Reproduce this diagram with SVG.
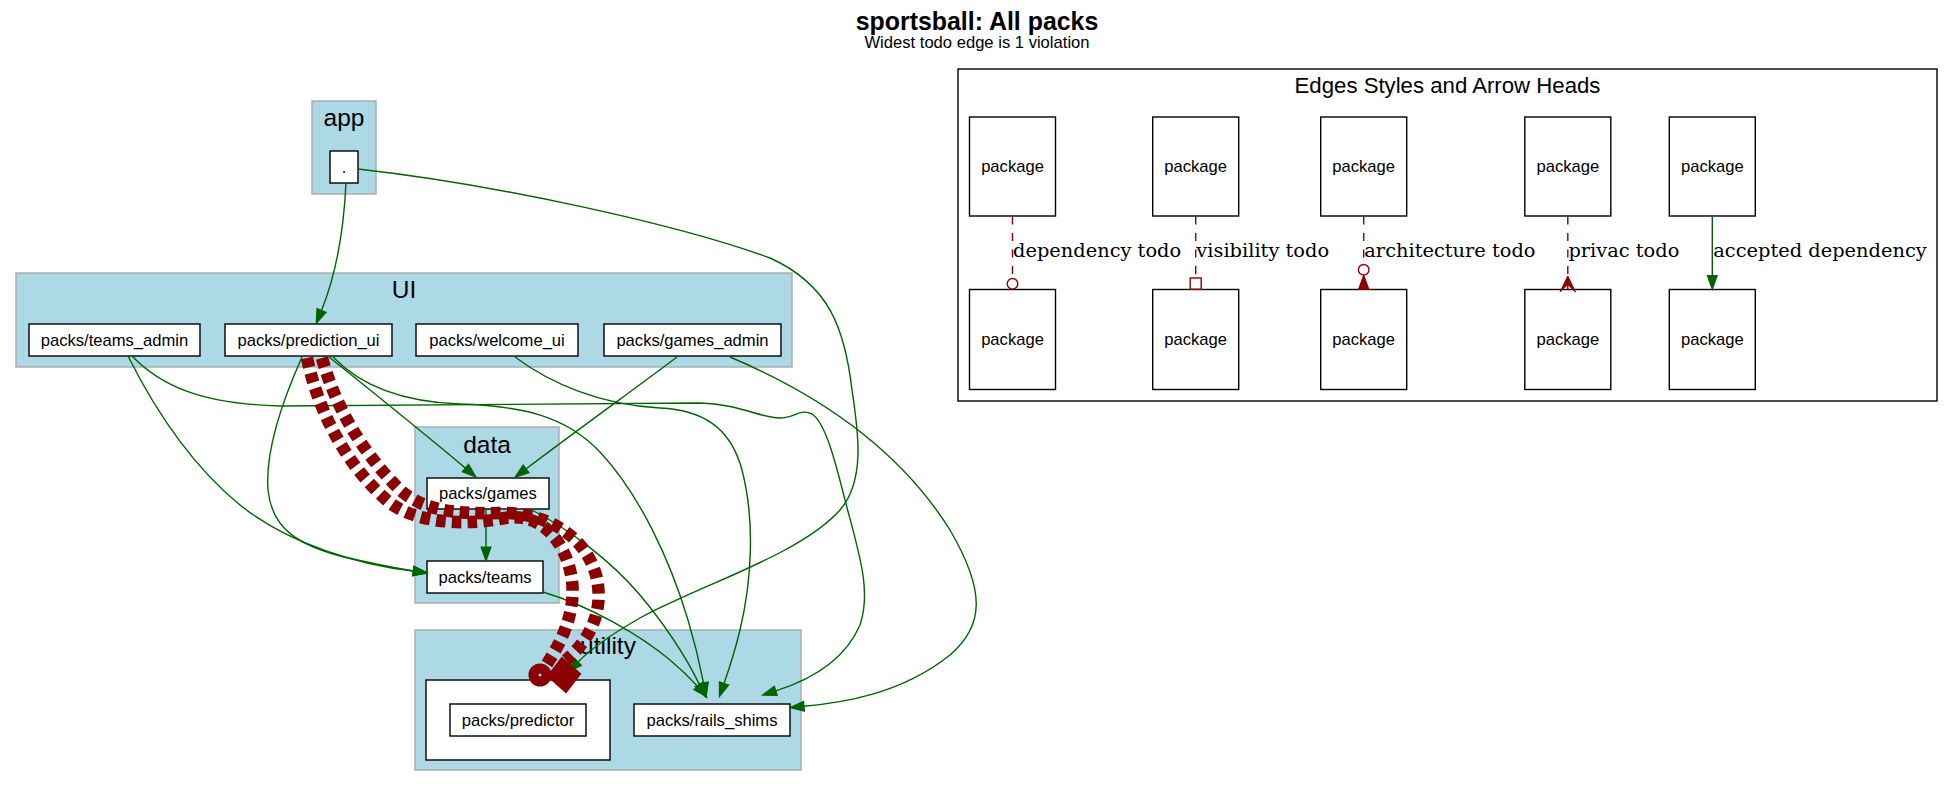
<svg xmlns="http://www.w3.org/2000/svg" width="1954" height="787" viewBox="0 0 1954 787">
<defs>
<style>
.cl{fill:#add8e6;stroke:#a9a9a9;stroke-width:1.4}
.nd{fill:#fff;stroke:#000;stroke-width:1.4}
.nt{font-family:'Liberation Sans',Arial,sans-serif;font-size:16.6px;text-anchor:middle;fill:#000}
.ct{font-family:'Liberation Sans',Arial,sans-serif;font-size:24.5px;text-anchor:middle;fill:#000}
.dep{fill:none;stroke:#006400;stroke-width:1.4;marker-end:url(#ag)}
.todo{fill:none;stroke:#8b0000;stroke-width:12.5;stroke-dasharray:9.5,6.2}
.ld{fill:none;stroke:#8b0000;stroke-width:1.4;stroke-dasharray:8,8.5}
.el{font-family:'DejaVu Serif',serif;font-size:19.4px;fill:#000}
</style>
<marker id="ag" markerUnits="userSpaceOnUse" markerWidth="20" markerHeight="20" refX="0" refY="0" orient="auto" overflow="visible">
<path d="M0,-4.85 L13.85,0 L0,4.85 Z" fill="#006400" stroke="#006400" stroke-width="1.2"/>
</marker>
</defs>
<rect x="0" y="0" width="1954" height="787" fill="#fff"/>
<g id="title">
<text x="977" y="30" style="font-family:'Liberation Sans',Arial,sans-serif;font-size:24.9px;font-weight:bold;text-anchor:middle">sportsball: All packs</text>
<text x="977" y="47.5" class="nt">Widest todo edge is 1 violation</text>
</g>
<g id="cluster_app">
<rect class="cl" x="312" y="101" width="64" height="93"/>
<text class="ct" x="344" y="125.5">app</text>
</g>
<g id="cluster_UI">
<rect class="cl" x="16" y="273" width="776" height="94"/>
<text class="ct" x="404" y="298">UI</text>
</g>
<g id="cluster_data">
<rect class="cl" x="415" y="427" width="144" height="176"/>
<text class="ct" x="487" y="452.5">data</text>
</g>
<g id="cluster_utility">
<rect class="cl" x="415" y="630" width="386" height="140"/>
<text class="ct" x="608" y="654">utility</text>
<rect x="426" y="680" width="184" height="80" fill="#fff" stroke="#000" stroke-width="1.4"/>
</g>
<g id="node_root">
<rect class="nd" x="330" y="151" width="28" height="32"/>
<text class="nt" x="344" y="172.8">.</text>
</g>
<g id="node_teams_admin">
<rect class="nd" x="29" y="324" width="171" height="32"/>
<text class="nt" x="114.5" y="345.8">packs/teams_admin</text>
</g>
<g id="node_prediction_ui">
<rect class="nd" x="225" y="324" width="167" height="32"/>
<text class="nt" x="308.5" y="345.8">packs/prediction_ui</text>
</g>
<g id="node_welcome_ui">
<rect class="nd" x="416" y="324" width="162" height="32"/>
<text class="nt" x="497" y="345.8">packs/welcome_ui</text>
</g>
<g id="node_games_admin">
<rect class="nd" x="604" y="324" width="177" height="32"/>
<text class="nt" x="692.5" y="345.8">packs/games_admin</text>
</g>
<g id="node_games">
<rect class="nd" x="427" y="478" width="122" height="31"/>
<text class="nt" x="488" y="499.3">packs/games</text>
</g>
<g id="node_teams">
<rect class="nd" x="427" y="561" width="116" height="32"/>
<text class="nt" x="485" y="582.8">packs/teams</text>
</g>
<g id="node_predictor">
<rect class="nd" x="450" y="704" width="136" height="32"/>
<text class="nt" x="518" y="725.8">packs/predictor</text>
</g>
<g id="node_rails_shims">
<rect class="nd" x="634" y="704" width="156" height="32"/>
<text class="nt" x="712" y="725.8">packs/rails_shims</text>
</g>
<g id="legend">
<rect x="958" y="69" width="979" height="332" fill="#fff" stroke="#000" stroke-width="1.4"/>
<text x="1447.5" y="93.3" style="font-family:'Liberation Sans',Arial,sans-serif;font-size:22.2px;text-anchor:middle">Edges Styles and Arrow Heads</text>
<g id="legend_nodes">
<rect class="nd" x="969.5" y="117" width="86" height="99"/><text class="nt" x="1012.5" y="171.5">package</text>
<rect class="nd" x="1152.7" y="117" width="86" height="99"/><text class="nt" x="1195.7" y="171.5">package</text>
<rect class="nd" x="1320.7" y="117" width="86" height="99"/><text class="nt" x="1363.7" y="171.5">package</text>
<rect class="nd" x="1524.8" y="117" width="86" height="99"/><text class="nt" x="1567.8" y="171.5">package</text>
<rect class="nd" x="1669.3" y="117" width="86" height="99"/><text class="nt" x="1712.3" y="171.5">package</text>
<rect class="nd" x="969.5" y="289.5" width="86" height="100"/><text class="nt" x="1012.5" y="344.5">package</text>
<rect class="nd" x="1152.7" y="289.5" width="86" height="100"/><text class="nt" x="1195.7" y="344.5">package</text>
<rect class="nd" x="1320.7" y="289.5" width="86" height="100"/><text class="nt" x="1363.7" y="344.5">package</text>
<rect class="nd" x="1524.8" y="289.5" width="86" height="100"/><text class="nt" x="1567.8" y="344.5">package</text>
<rect class="nd" x="1669.3" y="289.5" width="86" height="100"/><text class="nt" x="1712.3" y="344.5">package</text>
</g>
<g id="legend_edges">
<path class="ld" d="M1012.5,216.5 L1012.5,278.3"/>
<circle cx="1012.5" cy="283.8" r="5.3" fill="none" stroke="#8b0000" stroke-width="1.4"/>
<text class="el" x="1013" y="256.7">dependency todo</text>
<path class="ld" d="M1195.7,216.5 L1195.7,278"/>
<rect x="1190.2" y="278" width="11" height="11.3" fill="none" stroke="#8b0000" stroke-width="1.4"/>
<text class="el" x="1196.3" y="256.7">visibility todo</text>
<path class="ld" d="M1363.7,216.5 L1363.7,264.5"/>
<circle cx="1363.7" cy="269.8" r="5.3" fill="none" stroke="#8b0000" stroke-width="1.4"/>
<polygon points="1363.7,275.2 1368.8,289.3 1358.6,289.3" fill="#8b0000" stroke="#8b0000" stroke-width="1.2"/>
<text class="el" x="1364.3" y="256.7">architecture todo</text>
<path class="ld" d="M1567.8,216.5 L1567.8,289"/>
<polygon points="1567.8,276 1575.5,292 1567.8,284.5 1560,292" fill="#8b0000" stroke="#8b0000" stroke-width="1"/>
<text class="el" x="1568.4" y="256.7">privac todo</text>
<path class="dep" d="M1712.3,216.5 L1712.3,275.5"/>
<text class="el" x="1713.3" y="256.7">accepted dependency</text>
</g>
</g>
<g id="edges">
<path class="dep" d="M346,183 C344,225 337,272 321.5,310.5"/>
<path class="dep" d="M358,169 C500,185 680,225 770,258 C830,285 845,330 852,390 C858,430 866,480 840,510 C800,555 700,585 640,618 C610,635 590,650 578,662"/>
<path class="dep" d="M128,356 C150,400 185,460 240,505 C290,545 360,565 413.3,571"/>
<path class="dep" d="M302,357 C285,395 265,450 268,490 C272,530 300,545 340,556 C370,563 395,568 413.3,571"/>
<path class="dep" d="M329,357 C370,390 420,430 465.4,468.1"/>
<path class="dep" d="M333,357 C360,385 400,402 460,404 C520,406 565,415 600,452 C640,495 670,560 688,620 C697,650 701,670 703.5,683"/>
<path class="dep" d="M515,357 C550,383 600,405 660,408 C700,410 730,425 742,470 C755,520 752,580 740,630 C734,655 728,672 724,683.5"/>
<path class="dep" d="M677,357 C640,385 580,428 526.1,468.8"/>
<path class="dep" d="M730,357 C820,395 900,450 950,530 C985,590 985,625 950,655 C900,695 840,703 804,706.3"/>
<path class="dep" d="M132,356 C160,385 200,404 280,406 L700,403 C740,404 760,418 780,418 C795,418 800,408 812,414 C825,422 835,460 845,500 C858,550 872,590 860,625 C845,660 810,680 775.8,690.9"/>
<path class="dep" d="M486,509.5 L486,547.2"/>
<path class="dep" d="M532,510 C570,530 610,560 640,595 C665,625 685,655 699.5,684.6"/>
<path class="dep" d="M543,592 C590,606 640,635 670,660 C682,670 690,678 697.5,686.4"/>
<path class="todo" d="M307,358 C318,410 345,465 390,503 C420,525 470,525 505,518 C540,512 566,540 572,580 C576,615 560,645 543.5,669"/>
<circle cx="540" cy="675" r="6.5" fill="none" stroke="#8b0000" stroke-width="10"/>
<path class="todo" d="M322,358 C335,405 360,450 400,490 C425,512 460,514 500,513 C545,512 585,535 596,575 C605,610 590,640 566,660"/>
<polygon points="562,658 580,674 566,692 548,676" fill="#8b0000" stroke="#8b0000" stroke-width="2"/>
</g>
</svg>
